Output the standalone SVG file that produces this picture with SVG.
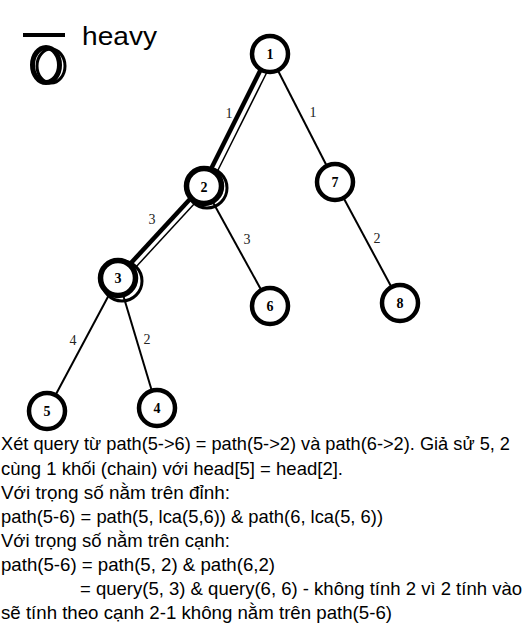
<svg xmlns="http://www.w3.org/2000/svg" width="528" height="628" viewBox="0 0 528 628">
<style>
.edge{stroke:#000;stroke-width:2;fill:none}
.hv{stroke:#000;stroke-width:4.5;fill:none}
.hv2{stroke:#000;stroke-width:1.5;fill:none}
.node{fill:#fff;stroke:#000;stroke-width:4.5}
.hnode{fill:#fff;stroke:#000;stroke-width:5.5}
.ring{fill:none;stroke:#000;stroke-width:3}
.nl{font-family:"Liberation Serif",serif;font-weight:bold;font-size:14px;text-anchor:middle}
.el{font-family:"Liberation Serif",serif;font-size:14px;fill:#222;text-anchor:middle}
.tx{font-family:"Liberation Sans","Open Sans",sans-serif;font-size:18.5px;fill:#000}
</style>
<rect width="528" height="628" fill="#fff"/>
<g id="legend">
<line x1="23" y1="35" x2="65" y2="35" stroke="#000" stroke-width="4"/>
<ellipse cx="51" cy="66" rx="14" ry="17" class="ring"/>
<ellipse cx="46" cy="65" rx="13.5" ry="17.5" fill="none" stroke="#000" stroke-width="5"/>
<text x="82" y="45" font-family="Liberation Sans,sans-serif" font-size="25" textLength="75" lengthAdjust="spacingAndGlyphs">heavy</text>
</g>
<g id="connectors">
<line class="hv" x1="268" y1="55" x2="203" y2="185"/>
<line class="hv2" x1="274" y1="58" x2="209" y2="188"/>
<line class="edge" x1="270" y1="55" x2="335" y2="182"/>
<line class="hv" x1="203" y1="185" x2="119" y2="276"/>
<line class="hv2" x1="207" y1="190" x2="123" y2="281"/>
<line class="edge" x1="204" y1="186" x2="270" y2="306"/>
<line class="edge" x1="118" y1="278" x2="47" y2="411"/>
<line class="edge" x1="118" y1="278" x2="157" y2="408"/>
<line class="edge" x1="335" y1="182" x2="400" y2="303"/>
<text class="el" x="229" y="118">1</text>
<text class="el" x="313" y="117">1</text>
<text class="el" x="152" y="224">3</text>
<text class="el" x="247" y="244">3</text>
<text class="el" x="73" y="345">4</text>
<text class="el" x="147" y="344">2</text>
<text class="el" x="377" y="243">2</text>
</g>
<g id="n1"><circle class="node" cx="270" cy="54" r="18"/><text class="nl" x="270" y="59">1</text></g>
<g id="n2"><circle class="ring" cx="207" cy="188" r="20"/><circle class="hnode" cx="204" cy="186" r="17.5"/><text class="nl" x="204" y="192">2</text></g>
<g id="n7"><circle class="node" cx="335" cy="182" r="18"/><text class="nl" x="335" y="187">7</text></g>
<g id="n3"><circle class="ring" cx="122" cy="281" r="20"/><circle class="hnode" cx="118" cy="278" r="17.5"/><text class="nl" x="118" y="283">3</text></g>
<g id="n6"><circle class="node" cx="270" cy="306" r="18"/><text class="nl" x="270" y="311">6</text></g>
<g id="n8"><circle class="node" cx="400" cy="303" r="18"/><text class="nl" x="400" y="308">8</text></g>
<g id="n5"><circle class="node" cx="47" cy="411" r="18"/><text class="nl" x="47" y="416">5</text></g>
<g id="n4"><circle class="node" cx="157" cy="408" r="18"/><text class="nl" x="157" y="413">4</text></g>
<g id="caption">
<text class="tx" x="1" y="450" textLength="509" lengthAdjust="spacingAndGlyphs">Xét query từ path(5-&gt;6) = path(5-&gt;2) và path(6-&gt;2). Giả sử 5, 2</text>
<text class="tx" x="1" y="474.5" textLength="342" lengthAdjust="spacingAndGlyphs">cùng 1 khối (chain) với head[5] = head[2].</text>
<text class="tx" x="1" y="498.5" textLength="229" lengthAdjust="spacingAndGlyphs">Với trọng số nằm trên đỉnh:</text>
<text class="tx" x="1" y="522.5" textLength="382" lengthAdjust="spacingAndGlyphs">path(5-6) = path(5, lca(5,6)) &amp; path(6, lca(5, 6))</text>
<text class="tx" x="1" y="547" textLength="229" lengthAdjust="spacingAndGlyphs">Với trọng số nằm trên cạnh:</text>
<text class="tx" x="1" y="571" textLength="274" lengthAdjust="spacingAndGlyphs">path(5-6) = path(5, 2) &amp; path(6,2)</text>
<text class="tx" x="80" y="595" textLength="442" lengthAdjust="spacingAndGlyphs">= query(5, 3) &amp; query(6, 6) - không tính 2 vì 2 tính vào</text>
<text class="tx" x="1" y="619" textLength="391" lengthAdjust="spacingAndGlyphs">sẽ tính theo cạnh 2-1 không nằm trên path(5-6)</text>
</g>
</svg>
